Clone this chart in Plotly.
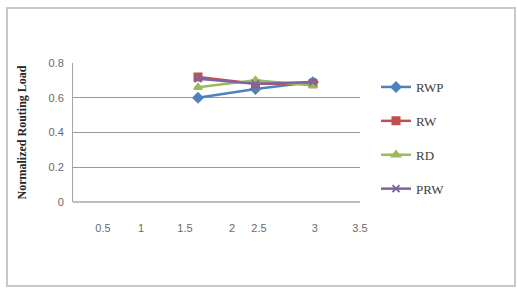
import plotly.graph_objects as go

# Data
x_vals = [2, 2.5, 3]
rwp = [0.60, 0.65, 0.69]
rw = [0.72, 0.68, 0.68]
rd = [0.66, 0.70, 0.67]
prw = [0.71, 0.68, 0.69]
series_names = ["RWP", "RW", "RD", "PRW"]

# X tick labels as drawn in the reference (irregularly placed)
x_tick_labels = ["0.5", "1", "1.5", "2", "2.5", "3", "3.5"]
x_tick_pos = [1.174, 1.504, 1.887, 2.296, 2.53, 3.017, 3.409]
y_tick_vals = [0, 0.2, 0.4, 0.6, 0.8]

colors = ["#4F81BD", "#C0504D", "#9BBB59", "#8064A2"]
symbols = ["diamond", "square", "triangle-up", "x-thin-open"]

fig = go.Figure()
for name, ys, c, s in zip(series_names, [rwp, rw, rd, prw], colors, symbols):
    fig.add_trace(go.Scatter(
        x=x_vals, y=ys, name=name, mode="lines+markers",
        line=dict(color=c, width=2.5),
        marker=dict(symbol=s, size=7, color=c, line=dict(color=c, width=2)),
        legendgroup=name,
    ))

L, R, T, B = 73, 157, 63, 88
W, H = 517, 290
pw, ph = W - L - R, H - T - B

def px(p):
    return (p - L) / pw

def py(p):
    return (H - B - p) / ph

fig.update_layout(
    width=W, height=H,
    margin=dict(l=L, r=R, t=T, b=B, autoexpand=False),
    paper_bgcolor="white", plot_bgcolor="white",
    showlegend=True,
    legend=dict(
        x=px(376), y=py(72), xanchor="left", yanchor="top",
        font=dict(family="Liberation Serif, Times New Roman, serif", size=13, color="#404040"),
        traceorder="grouped", tracegroupgap=14,
        bgcolor="rgba(0,0,0,0)", itemwidth=30,
    ),
    xaxis=dict(
        range=[0.913, 3.409], tickvals=x_tick_pos, ticktext=x_tick_labels,
        showgrid=False, zeroline=False, showline=False,
        ticks="", ticklabelstandoff=18,
        tickfont=dict(family="Liberation Sans, Arial, sans-serif", size=11, color="#6a6a6a"),
    ),
    yaxis=dict(
        range=[0, 0.8], tickvals=y_tick_vals,
        showgrid=True, gridcolor="#9a9a9a", gridwidth=1,
        zeroline=False, showline=True, linecolor="#a6a6a6", linewidth=1,
        ticks="", ticklabelstandoff=6,
        tickfont=dict(family="Liberation Sans, Arial, sans-serif", size=11, color="#6a6a6a"),
        title=dict(text="<b>Normalized Routing Load</b>", standoff=19,
                   font=dict(family="Liberation Serif, Times New Roman, serif", size=12, color="#262626")),
    ),
    shapes=[
        # bottom axis line
        dict(type="line", xref="paper", yref="paper", x0=0, x1=1, y0=0, y1=0,
             line=dict(color="#bfbfbf", width=2)),
        # chart area border
        dict(type="rect", xref="paper", yref="paper",
             x0=px(7), x1=px(515), y0=py(8), y1=py(286),
             line=dict(color="#c8c8c8", width=2), layer="above"),
    ],
)

fig.write_html("out.html", config={"displayModeBar": False},
               post_script="document.body.style.margin='0';")
